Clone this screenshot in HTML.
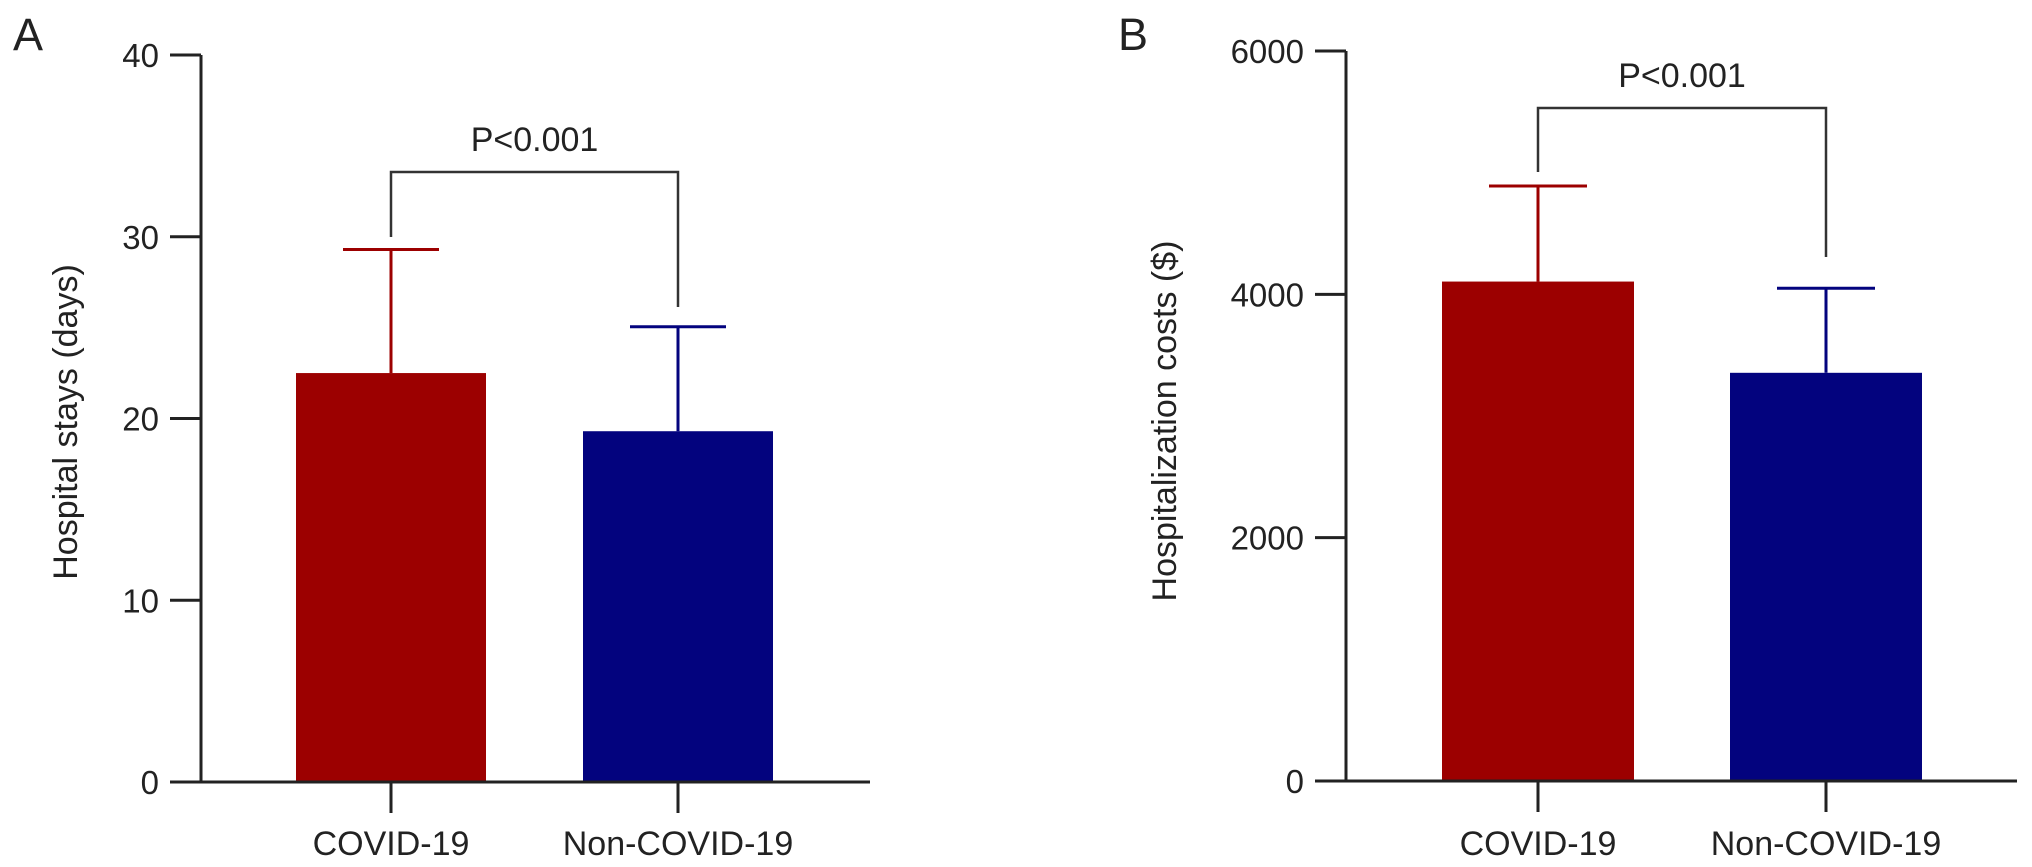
<!DOCTYPE html>
<html><head><meta charset="utf-8"><style>
html,body{margin:0;padding:0;background:#fff;}
svg{display:block;font-family:"Liberation Sans",Arial,sans-serif;}
</style></head><body>
<svg id="chart" width="2032" height="867" viewBox="0 0 2032 867" xmlns="http://www.w3.org/2000/svg">
<text x="13" y="50" font-size="45" fill="#222">A</text>
<text x="1118" y="50" font-size="45" fill="#222">B</text>
<text transform="translate(77,422) rotate(-90)" text-anchor="middle" font-size="34" fill="#222">Hospital stays (days)</text>
<text transform="translate(1176,421) rotate(-90)" text-anchor="middle" font-size="34" fill="#222">Hospitalization costs ($)</text>
<g id="pa"></g><g id="pb"></g>
</svg>
<script>
const categories = ["COVID-19", "Non-COVID-19"];
const staysMean = [22.5, 19.3];
const staysErr = [29.3, 25.05];
const staysTicks = [0, 10, 20, 30, 40];
const costMean = [4105, 3355];
const costErr = [4890, 4050];
const costTicks = [0, 2000, 4000, 6000];
const pLabel = "P<0.001";
const colors = ["#9c0000", "#03037e"];

const NS = "http://www.w3.org/2000/svg";
function mk(parent, tag, attrs, text) {
  const e = document.createElementNS(NS, tag);
  for (const k in attrs) e.setAttribute(k, attrs[k]);
  if (text !== undefined) e.textContent = text;
  parent.appendChild(e);
  return e;
}
function panel(g, cfg, means, errs, ticks, prefix) {
  const y = v => cfg.y0 - (v - ticks[0]) / (ticks[ticks.length-1] - ticks[0]) * (cfg.y0 - cfg.yTop);
  const xc = i => cfg.cx[i];
  means.forEach((m, i) => {
    const r = mk(g, "rect", {x: xc(i) - cfg.bw/2, y: y(m), width: cfg.bw, height: cfg.y0 - y(m), fill: colors[i]});
    
    
    const eg = mk(g, "g", {stroke: colors[i], "stroke-width": 3});
    
    
    mk(eg, "line", {x1: xc(i), x2: xc(i), y1: y(m), y2: y(errs[i])});
    mk(eg, "line", {x1: xc(i) - cfg.cap, x2: xc(i) + cfg.cap, y1: y(errs[i]), y2: y(errs[i])});
  });
  const ax = mk(g, "g", {stroke: "#222", "stroke-width": 3});
  
  
  mk(ax, "line", {x1: cfg.ax, x2: cfg.ax, y1: y(ticks[ticks.length-1]), y2: cfg.y0 + 1.5});
  mk(ax, "line", {x1: cfg.ax - 31, x2: cfg.xEnd, y1: cfg.y0, y2: cfg.y0});
  ticks.forEach(t => {
    mk(ax, "line", {x1: cfg.ax - 31, x2: cfg.ax, y1: y(t), y2: y(t)});
    const tl = mk(g, "text", {x: cfg.ax - 42, y: y(t) + 12, "text-anchor": "end", "font-size": 33, fill: "#222"}, String(t));
    
    
  });
  categories.forEach((c, i) => {
    mk(ax, "line", {x1: xc(i), x2: xc(i), y1: cfg.y0, y2: cfg.y0 + 31});
    const cl = mk(g, "text", {x: xc(i), y: 855, "text-anchor": "middle", "font-size": 34, fill: "#222"}, c);
    
    
  });
  const br = mk(g, "polyline", {points: `${xc(0)},${cfg.brL} ${xc(0)},${cfg.brTop} ${xc(1)},${cfg.brTop} ${xc(1)},${cfg.brR}`, fill: "none", stroke: "#333", "stroke-width": 2.5});
  
  
  const pl = mk(g, "text", {x: (xc(0) + xc(1)) / 2, y: cfg.brTop - 21, "text-anchor": "middle", "font-size": 34, fill: "#222"}, pLabel);
  
  
}
panel(document.getElementById("pa"),
  {ax: 201, y0: 782, yTop: 55, xEnd: 870, cx: [391, 678], bw: 190, cap: 48, brTop: 172, brL: 237, brR: 307},
  staysMean, staysErr, staysTicks, "panel-a");
panel(document.getElementById("pb"),
  {ax: 1346, y0: 781, yTop: 51, xEnd: 2017, cx: [1538, 1826], bw: 192, cap: 49, brTop: 108, brL: 172, brR: 257},
  costMean, costErr, costTicks, "panel-b");
</script>
</body></html>
